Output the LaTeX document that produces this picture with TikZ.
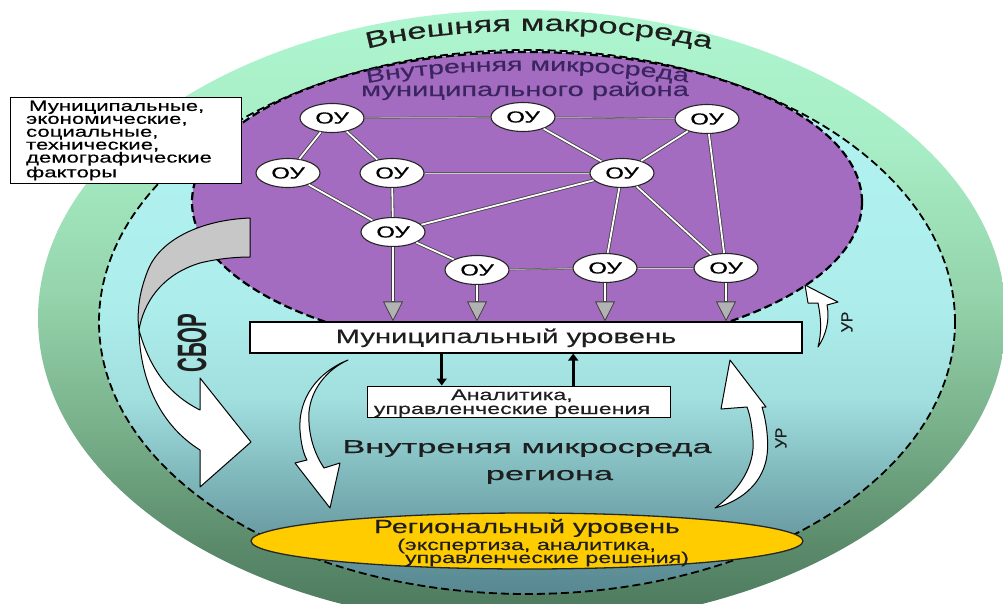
\documentclass[tikz,border=0pt]{standalone}
\usepackage{fontspec}
\setmainfont{Liberation Sans}[FakeBold=0.3]
\newfontfamily\wide{Liberation Sans}[FakeStretch=1.5,FakeBold=0.4]
\newfontfamily\wider{Liberation Sans}[FakeStretch=1.85,FakeBold=0.4]
\newfontfamily\cond{Liberation Sans}[FakeStretch=0.5]
\usetikzlibrary{arrows.meta,shapes.geometric,decorations.text,calc}
\definecolor{purp}{HTML}{A36CC0}
\definecolor{purptxt}{HTML}{3A2560}
\definecolor{yel}{HTML}{FFCC00}
\definecolor{txtd}{HTML}{1E1E1E}
\definecolor{g0}{HTML}{4B775C}
\definecolor{g1}{HTML}{5C8C6C}
\definecolor{g2}{HTML}{78B08A}
\definecolor{g3}{HTML}{95D4AC}
\definecolor{g4}{HTML}{A7EDC5}
\definecolor{g5}{HTML}{AEF6D0}
\definecolor{c0}{HTML}{578891}
\definecolor{c1}{HTML}{6A9CA3}
\definecolor{c2}{HTML}{82BCBF}
\definecolor{c3}{HTML}{A2DFDF}
\definecolor{c4}{HTML}{ADEEEC}
\definecolor{c5}{HTML}{B2F4F1}
\pgfdeclareverticalshading{greenshade}{100bp}{color(0bp)=(g0); color(25bp)=(g0); color(32bp)=(g1); color(41bp)=(g2); color(52bp)=(g3); color(64bp)=(g4); color(75bp)=(g5); color(100bp)=(g5)}
\pgfdeclareverticalshading{cyanshade}{100bp}{color(0bp)=(c0); color(25bp)=(c0); color(30.5bp)=(c1); color(36.5bp)=(c2); color(43bp)=(c3); color(52bp)=(c4); color(75bp)=(c5); color(100bp)=(c5)}
\begin{document}
\begin{tikzpicture}[x=1pt,y=-1pt,
  oy/.style={ellipse, draw=black!85, line width=1.1pt, fill=white, minimum width=64pt, minimum height=29pt, inner sep=0pt, font=\wide\fontsize{16}{16}\selectfont},
  dbl/.style={draw=black!75, line width=0.8pt, double=white, double distance=1.8pt},
  sgl/.style={draw=black!65, line width=0.6pt, double=white!80!black, double distance=0.5pt},
  dashline/.style={draw=black, line width=1.8pt, dash pattern=on 8pt off 4pt},
  whitebox/.style={draw=black, line width=1.1pt, fill=white, inner sep=0pt},
  downarr/.style={draw=black!75, line width=3.8pt, -{Triangle[length=20pt,width=20pt,line width=0.8pt,fill=black!30]}},
  downin/.style={draw=white, line width=1.6pt, shorten >=20pt},
  blkarr/.style={draw=black, line width=2.6pt, -{Triangle[length=7pt,width=10pt]}},
  wharrow/.style={draw=black, line width=1pt, fill=white, line join=round},
  txt/.style={inner sep=0pt, text=txtd}
]
\useasboundingbox (0,0) rectangle (1003,603);
\fill[white] (0,0) rectangle (1003,603);
% outer macro environment
\shade[shading=greenshade] (522,318) ellipse [x radius=484pt, y radius=308pt];
% region
\shade[shading=cyanshade] (527,322) ellipse [x radius=428pt, y radius=272pt];
\draw[dashline] (527,322) ellipse [x radius=428pt, y radius=272pt];
% municipal district
\fill[purp] (527,202) ellipse [x radius=335pt, y radius=150pt];
\draw[dashline, line width=2.2pt] (527,202) ellipse [x radius=335pt, y radius=150pt];

% arched titles
\path[decorate, decoration={text along path, text align=center,
  text={|\wide\fontsize{23}{23}\selectfont\color{txtd}|Внешняя макросреда}}]
  (360,51) .. controls (450,24) and (620,24) .. (718,51);
\path[decorate, decoration={text along path, text align=center,
  text={|\wide\fontsize{19}{20}\selectfont\color{purptxt}|Внутренняя микросреда}}]
  (358,85) .. controls (450,66) and (600,66) .. (697,84);
\node[txt, anchor=base, text=purptxt, font=\wide\fontsize{19.4}{20}\selectfont] (t2) at (525,96) {муниципального района};

% СБОР arrow
\draw[wharrow, fill=black!22] (250,218) .. controls (200,220) and (160,240) .. (148,270)
  .. controls (138,295) and (137,315) .. (139,330)
  .. controls (143,305) and (160,275) .. (200,263)
  .. controls (220,258) and (240,257) .. (250,257) -- cycle;
\draw[wharrow] (139,330) .. controls (140,380) and (160,425) .. (200,450)
  -- (200,487) -- (251,442) -- (200,378) -- (200,410)
  .. controls (170,395) and (150,370) .. (139,330) -- cycle;
\node[rotate=90, inner sep=0pt, text=txtd, font=\cond\bfseries\fontsize{41}{41}\selectfont] (sbor) at (192,343) {СБОР};

% factors box
\node[whitebox, anchor=north west, minimum height=86pt, text width=200pt, inner xsep=15.5pt, align=left,
  font=\wide\fontsize{14.8}{12.9}\selectfont] (fac) at (10,97)
  {\setlength{\lineskiplimit}{-100pt}\hspace*{3pt}Муниципальные,\\экономические,\\социальные,\\технические,\\демографические\\факторы};

% municipal level box
\node[whitebox, minimum width=552pt, minimum height=31pt] (mun) at (526,337.5) {};
\node[txt, anchor=base, font=\wide\fontsize{19.5}{20}\selectfont] (munt) at (506,343) {Муниципальный уровень};
% analytics box
\node[whitebox, line width=1pt, minimum width=303pt, minimum height=31pt] (an) at (518.5,401.5) {};
\node[txt, anchor=base, align=center, font=\wide\fontsize{15.5}{14}\selectfont] (ant) at (512,414) {\setlength{\lineskiplimit}{-100pt}Аналитика,\\управленческие решения};
\coordinate (a1) at ($(an.north west)!0.2475!(an.north east)$);
\coordinate (a2) at ($(an.north west)!0.68!(an.north east)$);
\draw[blkarr] (a1 |- mun.south) -- (a1);
\draw[blkarr] (a2) -- (a2 |- mun.south);

% OY nodes
\node[oy] (n1) at (332,118) {ОУ};
\node[oy] (n2) at (523,117) {ОУ};
\node[oy] (n3) at (707,119) {ОУ};
\node[oy] (n4) at (288,173) {ОУ};
\node[oy] (n5) at (392,173) {ОУ};
\node[oy] (n6) at (622,173) {ОУ};
\node[oy] (n7) at (393,232) {ОУ};
\node[oy] (n8) at (477,270) {ОУ};
\node[oy] (n9) at (605,268) {ОУ};
\node[oy] (n10) at (726,268) {ОУ};
% links
\draw[sgl] (n1) -- (n2);
\draw[sgl] (n2) -- (n3);
\draw[dbl] (n1) -- (n4);
\draw[dbl] (n1) -- (n5);
\draw[dbl] (n2) -- (n6);
\draw[dbl] (n3) -- (n6);
\draw[dbl] (n3) -- (n10);
\draw[dbl] (n4) -- (n7);
\draw[sgl] (n5) -- (n6);
\draw[dbl] (n5) -- (n7);
\draw[dbl] (n6) -- (n7);
\draw[dbl] (n6) -- (n9);
\draw[dbl] (n6) -- (n10);
\draw[dbl] (n7) -- (n8);
\draw[sgl] (n8) -- (n9);
\draw[sgl] (n9) -- (n10);
% arrows to municipal level
\foreach \n in {n7,n8,n9,n10}{
  \draw[downarr] (\n.south) -- (\n.south |- mun.north);
  \draw[downin] (\n.south) -- (\n.south |- mun.north);
}

% region text
\node[txt, anchor=base, font=\wider\fontsize{18.6}{19}\selectfont] (rg1) at (527,453) {Внутреняя микросреда};
\node[txt, anchor=base, font=\wider\fontsize{18.6}{19}\selectfont] (rg2) at (549.5,480) {региона};

% curved white arrows
\draw[wharrow] (348,360) .. controls (318,372) and (298,398) .. (300,430)
  .. controls (301,445) and (304,455) .. (307,460) -- (295,463) -- (330,508) -- (340,463) -- (324,468)
  .. controls (312,450) and (308,430) .. (309,412)
  .. controls (311,390) and (326,370) .. (348,360) -- cycle;
\draw[wharrow] (715,508) .. controls (740,490) and (755,465) .. (753,440)
  .. controls (752,425) and (750,415) .. (747,407) -- (721,409) -- (730,360) -- (766,407) -- (762,407)
  .. controls (766,420) and (769,440) .. (767,455)
  .. controls (764,480) and (745,500) .. (715,508) -- cycle;
\draw[wharrow] (818,347) .. controls (826,335) and (830,320) .. (827,305) -- (838,302) -- (805,285) -- (808,303) -- (818,303)
  .. controls (821,318) and (822,332) .. (818,347) -- cycle;
\node[rotate=90, txt, font=\fontsize{16}{16}\selectfont] (ur1) at (847,322) {УР};
\node[rotate=90, txt, font=\fontsize{16}{16}\selectfont] (ur2) at (781,438) {УР};

% regional level
\node[ellipse, draw=black!85, line width=1.3pt, fill=yel, minimum width=552pt, minimum height=56pt, inner sep=0pt] (reg) at (527,541) {};
\node[txt, anchor=base, font=\wide\fontsize{19}{19}\selectfont] (rl1) at (527,533) {Региональный уровень};
\node[txt, anchor=base, font=\wide\fontsize{15.5}{15.5}\selectfont] (rl2) at (526.5,550) {(экспертиза, аналитика,};
\node[txt, anchor=base, font=\wide\fontsize{15.5}{15.5}\selectfont] (rl3) at (547,563) {управленческие решения)};
\end{tikzpicture}
\end{document}
